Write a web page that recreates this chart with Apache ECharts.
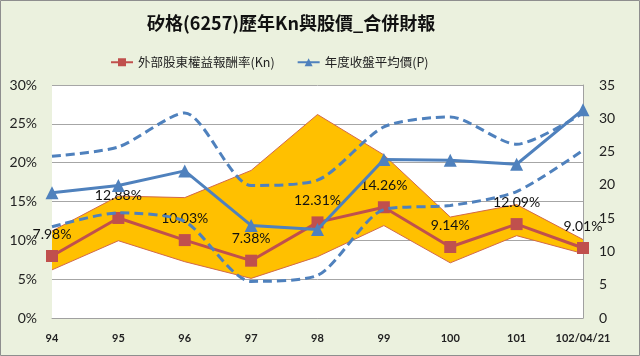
<!DOCTYPE html>
<html>
<head>
<meta charset="utf-8">
<script src="https://cdn.jsdelivr.net/npm/echarts@6/dist/echarts.min.js"></script>
<style>html,body{margin:0;padding:0;background:#EBF1DE;}#c{width:640px;height:356px;}</style>
</head>
<body>
<div id="c"></div>
<script>
const titleText = '矽格(6257)歷年Kn與股價_合併財報';
const categories = ['94','95','96','97','98','99','100','101','102/04/21'];
const knName = '外部股東權益報酬率(Kn)';
const priceName = '年度收盤平均價(P)';
const kn = [7.98, 12.88, 10.03, 7.38, 12.31, 14.26, 9.14, 12.09, 9.01];
const knUpper = [11.2, 15.7, 15.5, 19.0, 26.2, 21.0, 13.0, 14.6, 10.1];
const knLower = [6.2, 9.95, 7.25, 5.1, 7.9, 11.9, 7.1, 10.6, 8.3];
const price = [18.8, 19.9, 22.1, 13.9, 13.3, 23.8, 23.7, 23.1, 31.3];
const priceUpper = [24.3, 25.7, 30.8, 19.9, 20.7, 28.7, 30.2, 26.1, 30.8];
const priceLower = [13.7, 15.8, 14.5, 5.5, 6.4, 16.3, 16.9, 19.0, 25.2];
const leftTicks = [0, 5, 10, 15, 20, 25, 30];
const rightTicks = [0, 5, 10, 15, 20, 25, 30, 35];

const bandWidth = knUpper.map((u, i) => +(u - knLower[i]).toFixed(2));
const chart = echarts.init(document.getElementById('c'));
const numFont = 'Lato, "Liberation Sans", sans-serif';
const cjkFont = '"Noto Sans CJK TC", "Noto Sans CJK SC", sans-serif';

chart.setOption({
  backgroundColor: '#EBF1DE',
  animation: false,
  title: {
    text: titleText, left: 142, top: 9,
    textStyle: { fontFamily: cjkFont, fontSize: 18, fontWeight: 'bold', color: '#111' }
  },
  legend: {
    left: 105, top: 51, itemWidth: 22, itemHeight: 10, itemGap: 22,
    data: [knName, priceName],
    textStyle: { fontFamily: cjkFont, fontSize: 12.5, color: '#222' }
  },
  graphic: [{
    type: 'rect', shape: { x: 0.5, y: 0.5, width: 639, height: 355 },
    style: { fill: 'none', stroke: '#8E8E8E', lineWidth: 1 }, z: 100
  }],
  grid: { left: 52, right: 57, top: 85, bottom: 38, show: true, backgroundColor: '#fff', borderWidth: 0 },
  xAxis: {
    type: 'category', data: categories, boundaryGap: false,
    axisLine: { lineStyle: { color: '#A0A0A0', width: 1 } },
    axisTick: { show: false },
    axisLabel: { interval: 0, margin: 15, fontFamily: numFont, fontSize: 11, fontWeight: 'bold', color: '#222' }
  },
  yAxis: [{
    type: 'value', min: leftTicks[0], max: leftTicks[leftTicks.length - 1], interval: 5,
    axisLine: { show: false }, axisTick: { show: false },
    axisLabel: { margin: 15, formatter: '{value}%', fontFamily: numFont, fontSize: 14, color: '#222' },
    splitLine: { lineStyle: { color: '#A6A6A6', width: 1 } }
  }, {
    type: 'value', min: rightTicks[0], max: rightTicks[rightTicks.length - 1], interval: 5,
    position: 'right',
    axisLine: { show: true, lineStyle: { color: '#A0A0A0' } }, axisTick: { show: false },
    axisLabel: { margin: 16, fontFamily: numFont, fontSize: 14, color: '#222' },
    splitLine: { show: false }
  }],
  series: [
    {
      name: 'bandBase', type: 'line', stack: 'band', data: knLower, yAxisIndex: 0,
      symbol: 'none', lineStyle: { opacity: 0 }, areaStyle: { opacity: 0 }, silent: true, z: 1
    },
    {
      name: 'band', type: 'line', stack: 'band', data: bandWidth, yAxisIndex: 0,
      symbol: 'none', lineStyle: { opacity: 0 }, areaStyle: { color: '#FFC000', opacity: 1 }, silent: true, z: 1
    },
    {
      name: 'bandUpperEdge', type: 'line', data: knUpper, yAxisIndex: 0,
      symbol: 'none', lineStyle: { color: '#D2694A', width: 1 }, silent: true, z: 2
    },
    {
      name: 'bandLowerEdge', type: 'line', data: knLower, yAxisIndex: 0,
      symbol: 'none', lineStyle: { color: '#D2694A', width: 1 }, silent: true, z: 2
    },
    {
      name: knName, type: 'line', data: kn, yAxisIndex: 0,
      symbol: 'rect', symbolSize: 12,
      itemStyle: { color: '#C0504D' }, lineStyle: { color: '#C0504D', width: 3 },
      label: { show: true, position: 'top', distance: 9, formatter: p => p.value.toFixed(2) + '%',
        fontFamily: numFont, fontSize: 14, color: '#111' },
      z: 3
    },
    {
      name: 'priceUpper', type: 'line', data: priceUpper, yAxisIndex: 1, smooth: 0.25,
      symbol: 'none', lineStyle: { color: '#4F81BD', width: 3, type: [9, 5] }, z: 4
    },
    {
      name: 'priceLower', type: 'line', data: priceLower, yAxisIndex: 1, smooth: 0.25,
      symbol: 'none', lineStyle: { color: '#4F81BD', width: 3, type: [9, 5] }, z: 4
    },
    {
      name: priceName, type: 'line', data: price, yAxisIndex: 1,
      symbol: 'triangle', symbolSize: 13,
      itemStyle: { color: '#4F81BD' }, lineStyle: { color: '#4F81BD', width: 3 }, z: 5
    }
  ]
});
</script>
</body>
</html>
